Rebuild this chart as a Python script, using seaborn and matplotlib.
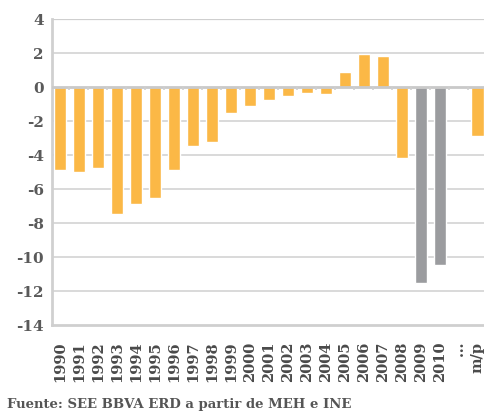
import numpy as np
import pandas as pd
import matplotlib
matplotlib.use("Agg")
import matplotlib.pyplot as plt
import seaborn as sns

# Public balance (% of GDP), 1990-2010 plus medium-term projection
years = ["1990", "1991", "1992", "1993", "1994", "1995", "1996", "1997",
         "1998", "1999", "2000", "2001", "2002", "2003", "2004", "2005",
         "2006", "2007", "2008", "2009", "2010", "…", "m/p"]
balance = [-4.9, -5.0, -4.75, -7.45, -6.9, -6.5, -4.9, -3.45,
           -3.25, -1.5, -1.1, -0.75, -0.5, -0.35, -0.4, 0.9,
           1.95, 1.85, -4.15, -11.5, -10.45, np.nan, -2.9]
group = ["a"] * 19 + ["b", "b", "a", "a"]
colors = {"a": "#FBB846", "b": "#9B9C9F"}
yticks = [4, 2, 0, -2, -4, -6, -8, -10, -12, -14]
source = "Fuente: SEE BBVA ERD a partir de MEH e INE"

df = pd.DataFrame({"year": years, "balance": balance, "group": group})

sns.set_style("white")
plt.rcParams["font.family"] = ["DejaVu Serif"]

W, H = 484, 415
fig = plt.figure(figsize=(W / 100, H / 100), dpi=100)
ax = fig.add_axes([52 / W, (H - 325) / H, 436 / W, 306 / H])

sns.barplot(data=df, x="year", y="balance", hue="group", palette=colors,
            order=years, dodge=False, width=0.64, legend=False, ax=ax,
            saturation=1)

ax.set_ylim(-14, 4)
ax.set_xlim(-0.42, len(years) - 0.45)
ax.set_yticks(yticks)
ax.set_yticklabels([str(v) for v in yticks], fontsize=11, fontweight="bold",
                   color="#5a5a5a")
ax.set_xticks(range(len(years)))
ax.set_xticklabels(years, rotation=90, fontsize=10.5, fontweight="bold",
                   color="#4a4a4a")
ax.tick_params(axis="y", length=0, pad=6)
ax.tick_params(axis="x", length=0, pad=12)
ax.set_xlabel("")
ax.set_ylabel("")

for y in yticks:
    if y in (0, -14):
        continue
    ax.axhline(y, color="#d9d9d9", lw=1.4, zorder=0)
ax.axhline(0, color="#c9c9c9", lw=2.0, zorder=3)

# small separators below the zero line
bounds = np.arange(len(years) - 1) + 0.5
ax.vlines(bounds, -0.2, -0.02, color="#cfcfcf", lw=1.2, zorder=3)

for s in ["top", "right"]:
    ax.spines[s].set_visible(False)
ax.axhline(4, color="#cfcfcf", lw=1.6, zorder=0)
ax.spines["left"].set_color("#d0d0d0")
ax.spines["left"].set_linewidth(2)
ax.spines["bottom"].set_color("#cfcfcf")
ax.spines["bottom"].set_linewidth(2)

fig.text(7 / W, 1 - 404 / H, source, fontsize=9.5, fontweight="bold",
         color="#555555", va="center", ha="left")

fig.savefig("out.png", dpi=100)
